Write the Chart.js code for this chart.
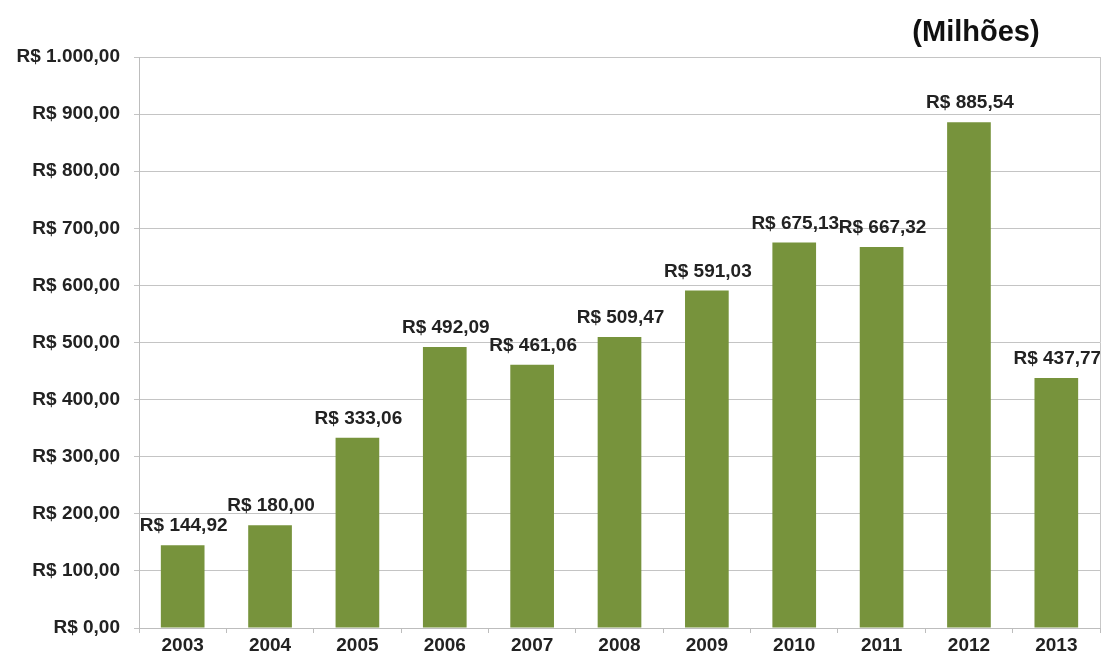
<!DOCTYPE html>
<html>
<head>
<meta charset="utf-8">
<script src="https://cdn.jsdelivr.net/npm/chart.js@4/dist/chart.umd.min.js"></script>
<style>
  html, body { margin: 0; padding: 0; background: #fff; }
  #wrap { width: 1105px; height: 660px; }
</style>
</head>
<body>
<div id="wrap"><canvas id="grafico"></canvas></div>
<script>
// Dados do grafico
const anos = ['2003', '2004', '2005', '2006', '2007', '2008', '2009', '2010', '2011', '2012', '2013'];
const valores = [144.92, 180.00, 333.06, 492.09, 461.06, 509.47, 591.03, 675.13, 667.32, 885.54, 437.77];
const ticksY = [0, 100, 200, 300, 400, 500, 600, 700, 800, 900, 1000];

const fonte = '"Liberation Sans", Arial, sans-serif';

// Formata em reais
function reais(v) {
    return 'R$ ' + v.toLocaleString('pt-BR', { minimumFractionDigits: 2, maximumFractionDigits: 2 });
}

// Plugin para rotulos e titulo
const rotulos = {
    id: 'rotulos',
    afterDatasetsDraw(chart) {
        const ctx = chart.ctx;
        const meta = chart.getDatasetMeta(0);
        ctx.save();
        ctx.font = 'bold 19px ' + fonte;
        ctx.fillStyle = '#222';
        ctx.textAlign = 'center';
        ctx.textBaseline = 'alphabetic';
        meta.data.forEach((bar, i) => {
            ctx.fillText(reais(valores[i]), bar.x + 1, bar.y - 14);
        });

        // borda direita
        const a = chart.chartArea;
        ctx.strokeStyle = '#c8c8c8';
        ctx.lineWidth = 1;
        ctx.beginPath();
        ctx.moveTo(a.right + 0.5, a.top);
        ctx.lineTo(a.right + 0.5, a.bottom);
        ctx.stroke();

        ctx.font = 'bold 29px ' + fonte;
        ctx.fillStyle = '#111';
        ctx.textAlign = 'center';
        ctx.textBaseline = 'middle';
        ctx.fillText('(Milhões)', 976, 33);
        ctx.restore();
    }
};

new Chart(document.getElementById('grafico').getContext('2d'), {
    type: 'bar',
    data: {
        labels: anos,
        datasets: [{
            data: valores,
            backgroundColor: '#77933c',
            barPercentage: 0.5,
            categoryPercentage: 1.0
        }]
    },
    options: {
        responsive: true,
        maintainAspectRatio: false,
        animation: false,
        layout: { padding: { top: 57, right: 5, left: 0, bottom: 0 } },
        plugins: {
            legend: { display: false },
            tooltip: { enabled: false }
        },
        scales: {
            x: {
                grid: { offset: true, drawOnChartArea: false, tickLength: 5, color: '#bdbdbd' },
                border: { color: '#bdbdbd' },
                ticks: { color: '#222', font: { family: fonte, size: 19, weight: 'bold' }, padding: 1 },
                afterFit(scale) { scale.height = 32; }
            },
            y: {
                min: 0,
                max: 1000,
                afterBuildTicks(scale) { scale.ticks = ticksY.map(v => ({ value: v })); },
                grid: { color: '#c4c4c4', tickLength: 5 },
                border: { color: '#bdbdbd' },
                ticks: {
                    color: '#222',
                    font: { family: fonte, size: 19, weight: 'bold' },
                    padding: 14,
                    callback: v => reais(v)
                },
                afterFit(scale) { scale.width = 139; }
            }
        }
    },
    plugins: [rotulos]
});
</script>
</body>
</html>
